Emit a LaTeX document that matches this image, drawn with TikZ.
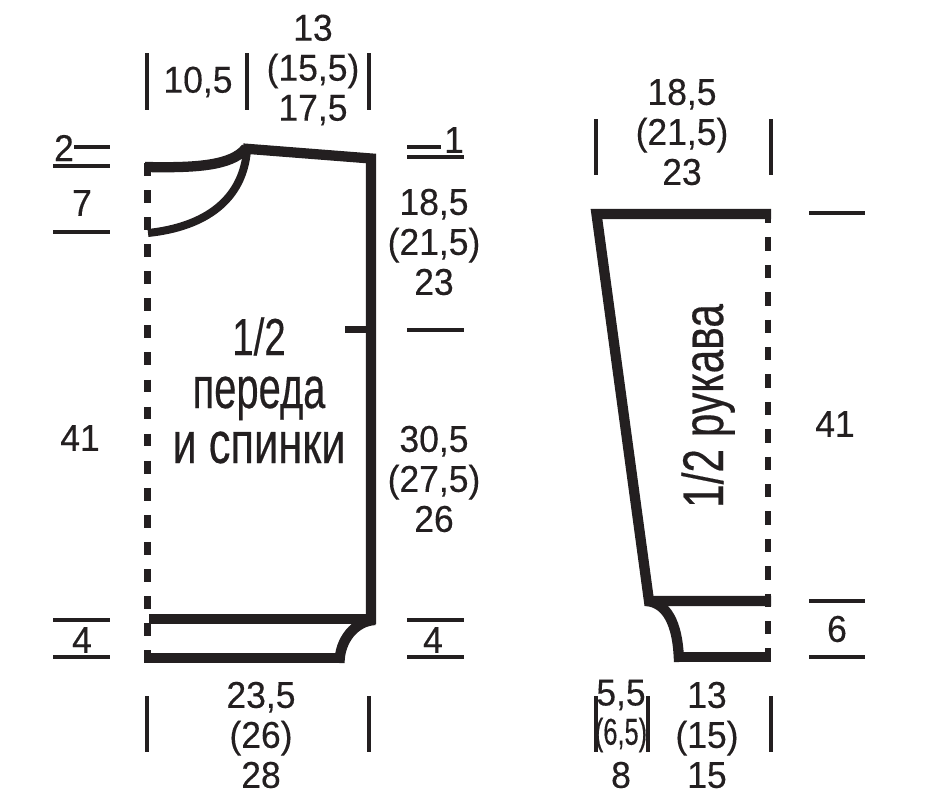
\documentclass[tikz,border=0pt]{standalone}
\usepackage{fontspec}
\setmainfont{Liberation Sans}
\newfontfamily\narrowfont[FakeStretch=0.95, FakeBold=0.3]{Liberation Sans}
\newfontfamily\titlefont[FakeStretch=0.74, FakeBold=0.3]{Liberation Sans}
\newfontfamily\tightfont[FakeStretch=0.68, FakeBold=0.3]{Liberation Sans}
\definecolor{inkblack}{HTML}{231F20}
\tikzset{outline/.style = {line width=7.7pt, color=inkblack, line cap=butt, line join=miter},
         thinner/.style = {outline, line width=6pt},
         foldline/.style = {line width=5.2pt, color=inkblack, dash pattern=on 9.6pt off 10.7pt},
         measure/.style = {line width=2.35pt, color=inkblack},
         size/.style = {text=inkblack, align=center, inner sep=0pt,
                        font=\narrowfont\fontsize{28}{30}\selectfont},
         heading/.style = {text=inkblack, anchor=base, inner sep=0pt,
                           font=\titlefont\fontsize{44}{44}\selectfont}}

\begin{document}
\begin{tikzpicture}[x=0.75pt, y=-0.75pt]
    \useasboundingbox (0, 0) rectangle (926, 803);

    % front and back
    \draw [foldline] (147.5, 163) -- (147.5, 663);
    \draw [outline] (145, 167) .. controls (195, 168) and (232, 166) .. (246, 148);
    \draw [thinner] (148, 233) .. controls (205, 227) and (243, 200) .. (247, 150);
    \draw [outline] (243, 148.5) -- (371, 158.5) -- (371, 624);
    \draw [outline] (149, 619) -- (375, 619);
    \draw [outline] (145, 658) -- (343, 658);
    \draw [outline] (339.5, 663) .. controls (339.5, 640) and (355, 621) .. (375, 620);
    \draw [line width=5pt, color=inkblack] (345, 329.5) -- (368, 329.5);

    % sleeve
    \draw [foldline, dash pattern=on 10pt off 10.55pt] (768, 210) -- (768, 662);
    \draw [outline] (771, 214) -- (596.5, 214) -- (649, 601) -- (771, 601);
    \draw [outline] (771, 657) -- (674, 657);
    \draw [outline] (647, 601) .. controls (665, 603) and (678, 620) .. (679, 662);

    % vertical ticks
    \foreach \x in {147, 247, 369}
      \draw [measure] (\x, 53) -- (\x, 110);
    \foreach \x in {147, 369, 596, 648, 771}
      \draw [measure] (\x, 696) -- (\x, 752);
    \draw [measure] (596, 119) -- (596, 175);
    \draw [measure] (771, 119) -- (771, 175);

    % horizontal ticks
    \draw [measure] (74, 147) -- (110, 147);
    \foreach \y in {166, 232, 620, 657}
      \draw [measure] (53, \y) -- (110, \y);
    \draw [measure] (407, 147) -- (441, 147);
    \foreach \y in {157, 330, 620, 657}
      \draw [measure] (407, \y) -- (464, \y);
    \foreach \y in {213, 601, 657}
      \draw [measure] (809, \y) -- (865, \y);

    % sizes
    \node [size] (neck) at (198, 82) {10,5};
    \node [size] (shoulder) at (313, 70) {13\\(15,5)\\17,5};
    \node [size] (shoulderdrop) at (64, 148) {2};
    \node [size] (neckdrop) at (82, 203) {7};
    \node [size] (backdrop) at (454, 140) {1};
    \node [size] (armhole) at (434, 242) {18,5\\(21,5)\\23};
    \node [size] (length) at (80, 438) {41};
    \node [size] (side) at (434, 479) {30,5\\(27,5)\\26};
    \node [size] (hemleft) at (82, 640) {4};
    \node [size] (hemright) at (433, 640) {4};
    \node [size] (width) at (261, 735) {23,5\\(26)\\28};
    \node [size] (top) at (682, 132) {18,5\\(21,5)\\23};
    \node [size] (sleevelength) at (835, 424) {41};
    \node [size] (cuff) at (837, 629) {6};
    \node [size] (cuffcut) at (621, 695) {5,5};
    \node [size, font=\tightfont\fontsize{28}{30}\selectfont] (cuffcutb) at (621, 735) {(6,5)};
    \node [size] (cuffcutc) at (621, 775) {8};
    \node [size] (bottom) at (707, 735) {13\\(15)\\15};

    % titles
    \node [heading, font=\titlefont\fontsize{39}{40}\selectfont] (half) at (259, 355) {1/2};
    \node [heading, font=\tightfont\fontsize{44}{44}\selectfont] (bodya) at (259, 408) {переда};
    \node [heading] (bodyb) at (259, 463) {и спинки};
    \node [heading, rotate=90, font=\titlefont\fontsize{43}{44}\selectfont] (sleeve) at (723, 406) {1/2 рукава};
\end{tikzpicture}
\end{document}
